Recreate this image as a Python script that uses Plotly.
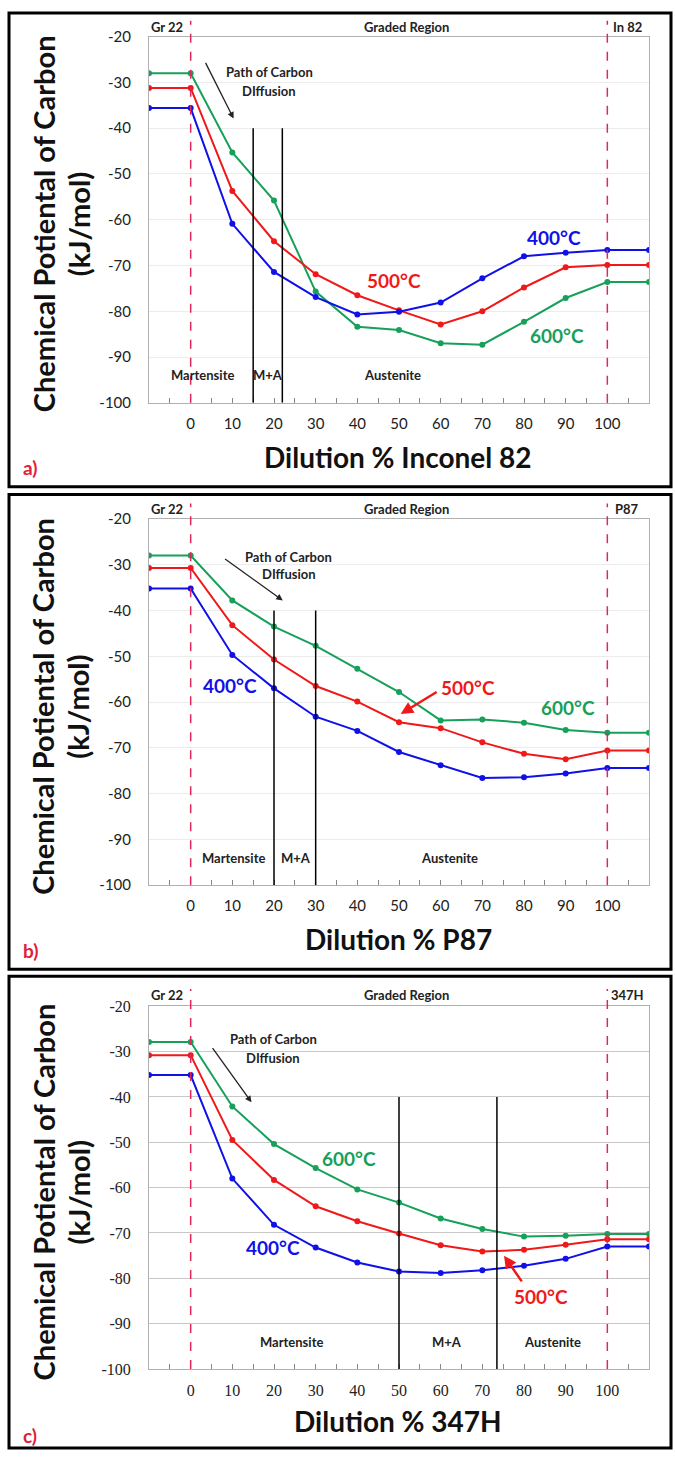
import plotly.graph_objects as go

W, H = 675, 1460

# ---------------- data ----------------
dilution = [-10, 0, 10, 20, 30, 40, 50, 60, 70, 80, 90, 100, 110]
tick_vals = [0, 10, 20, 30, 40, 50, 60, 70, 80, 90, 100]
tick_text = ["0", "10", "20", "30", "40", "50", "60", "70", "80", "90", "100"]
y_ticks = [-20, -30, -40, -50, -60, -70, -80, -90, -100]
y_tick_text = ["-20", "-30", "-40", "-50", "-60", "-70", "-80", "-90", "-100"]

a600 = [-28.0, -28.0, -45.3, -55.8, -75.7, -83.4, -84.1, -87.0, -87.3, -82.3, -77.1, -73.6, -73.6]
a500 = [-31.2, -31.2, -53.7, -64.7, -71.9, -76.5, -79.8, -82.9, -80.0, -74.8, -70.4, -69.9, -69.9]
a400 = [-35.6, -35.6, -60.9, -71.4, -76.9, -80.7, -80.1, -78.1, -72.8, -68.0, -67.2, -66.6, -66.6]

b600 = [-28.0, -28.0, -37.8, -43.5, -47.7, -52.7, -57.8, -64.0, -63.8, -64.5, -66.1, -66.7, -66.7]
b500 = [-30.7, -30.7, -43.2, -50.7, -56.5, -59.9, -64.4, -65.7, -68.8, -71.3, -72.5, -70.6, -70.6]
b400 = [-35.2, -35.2, -49.7, -57.0, -63.2, -66.3, -70.9, -73.8, -76.6, -76.4, -75.6, -74.4, -74.4]

c600 = [-27.9, -27.9, -42.1, -50.4, -55.7, -60.4, -63.3, -66.8, -69.1, -70.8, -70.6, -70.2, -70.2]
c500 = [-30.8, -30.8, -49.5, -58.3, -64.1, -67.4, -70.1, -72.7, -74.1, -73.7, -72.6, -71.4, -71.4]
c400 = [-35.2, -35.2, -58.0, -68.2, -73.2, -76.5, -78.5, -78.8, -78.2, -77.2, -75.7, -73.0, -73.0]

panel_letters = ["a)", "b)", "c)"]
x_titles = ["Dilution % Inconel 82", "Dilution % P87", "Dilution % 347H"]
right_labels = ["In 82", "P87", "347H"]
phase_lines = [[15, 22], [20, 30], [50, 73.5]]
phase_labels = [
    [("Martensite", 2.9), ("M+A", 18.5), ("Austenite", 48.5)],
    [("Martensite", 10.3), ("M+A", 25.3), ("Austenite", 62.2)],
    [("Martensite", 24.1), ("M+A", 61.6), ("Austenite", 86.9)],
]
# temperature label positions (x, y) per panel: 400, 500, 600
temp_pos = [
    [(87.3, -63.8), (48.8, -73.3), (87.8, -85.3)],
    [(9.5, -56.3), (66.5, -56.8), (90.6, -61.2)],
    [(19.8, -73.3), (84.0, -83.9), (38.0, -53.5)],
]
path_text_x = [18.8, 23.5, 19.8]
path_text_y = [(-27.8, -31.9), (-28.2, -32.1), (-27.3, -31.4)]
path_arrow = [((3.4, -25.4), (10.3, -37.9)), ((7.9, -28.5), (22.1, -37.8)), ((5.0, -28.9), (14.6, -41.2))]
red_arrow = [None, ((59.4, -57.6), (50.4, -62.6)), ((79.7, -81.0), (75.2, -75.0))]

series = [(a400, a500, a600), (b400, b500, b600), (c400, c500, c600)]

# ---------------- layout geometry (pixels) ----------------
boxes = [(9, 3, 671, 483), (9, 491, 671, 972), (9, 979, 671, 1457)]
plot_x = (149, 649)
plot_y = [(27, 398), (515.7, 886.7), (1009.3, 1377)]
top_label_y = [17, 505.7, 997.7]
dash_top = [11, 500, 992]
xtitle_y = [453, 941.7, 1430]
letter_y = [464, 953, 1444]
ytitle_c = [217, 706, 1198]

BLUE = "#1010e8"
RED = "#f01818"
GREEN = "#16a05a"
DASH = "#e02858"
TITLE_FONT = "Lato"

def px(x):
    return x / W

def py(y):
    return 1 - y / H

fig = go.Figure()
shapes = []
annotations = []

def ann(**kw):
    kw.setdefault("xanchor", "center")
    kw.setdefault("yanchor", "middle")
    kw.setdefault("showarrow", False)
    annotations.append(kw)

for i in range(3):
    sfx = "" if i == 0 else str(i + 1)
    xa = "x" + sfx
    ya = "y" + sfx
    s400, s500, s600 = series[i]
    for vals, col, nm in [(s600, GREEN, "600°C"), (s500, RED, "500°C"), (s400, BLUE, "400°C")]:
        fig.add_trace(go.Scatter(
            x=dilution, y=vals, mode="lines+markers", name=nm,
            line=dict(color=col, width=2), marker=dict(color=col, size=6),
            xaxis=xa, yaxis=ya, showlegend=False, hoverinfo="skip"))

    serif = (i == 2)
    tfont = dict(family="Liberation Serif" if serif else "Lato", size=16 if serif else 15, color="#222")
    gridc = "#c8c8c8" if serif else "#ececec"
    fig.update_layout(**{
        "xaxis" + sfx: dict(
            domain=[px(plot_x[0]), px(plot_x[1])], anchor=ya, range=[-10, 110],
            tickvals=tick_vals, ticktext=tick_text, ticks="inside", ticklen=5,
            tickcolor="#888", showgrid=False, zeroline=False, showline=True,
            linecolor="#b0b0b0", linewidth=1, mirror=True, tickfont=tfont,
            ticklabelstandoff=7,
            minor=dict(dtick=5, tick0=-5, ticks="inside", ticklen=5, tickcolor="#888", showgrid=False),
            fixedrange=True),
        "yaxis" + sfx: dict(
            domain=[py(plot_y[i][1]), py(plot_y[i][0])], anchor=xa, range=[-100, -20],
            tickvals=y_ticks, ticktext=y_tick_text, ticks="", showgrid=True, gridcolor=gridc,
            gridwidth=1, zeroline=False, showline=True, linecolor="#b0b0b0", linewidth=1,
            mirror=True, tickfont=tfont, ticklabelstandoff=14, fixedrange=True),
    })

    # panel box
    x0, y0, x1, y1 = boxes[i]
    shapes.append(dict(type="rect", xref="paper", yref="paper", x0=px(x0), x1=px(x1),
                       y0=py(y1), y1=py(y0), line=dict(color="black", width=3), layer="above"))
    # red dashed boundaries
    for xv in (0, 100):
        shapes.append(dict(type="line", xref=xa, yref="paper", x0=xv, x1=xv,
                           y0=py(plot_y[i][1]), y1=py(dash_top[i]),
                           line=dict(color=DASH, width=1.5, dash="dash")))
    # phase lines
    for xv in phase_lines[i]:
        shapes.append(dict(type="line", xref=xa, yref=ya, x0=xv, x1=xv, y0=-100, y1=-40,
                           line=dict(color="black", width=1.5)))

    small = dict(family="Lato", size=13, color="#222")
    # top labels
    for txt, xv in [("Gr 22", -5.7), ("Graded Region", 51.9), (right_labels[i], 104.8)]:
        ann(text="<b>%s</b>" % txt, xref=xa, yref="paper", x=xv, y=py(top_label_y[i]), font=small)
    # phase labels
    for txt, xv in phase_labels[i]:
        ann(text="<b>%s</b>" % txt, xref=xa, yref=ya, x=xv, y=-94.0, font=small)
    # path of carbon diffusion
    ann(text="<b>Path of Carbon</b>", xref=xa, yref=ya, x=path_text_x[i], y=path_text_y[i][0], font=small)
    ann(text="<b>DIffusion</b>", xref=xa, yref=ya, x=path_text_x[i], y=path_text_y[i][1], font=small)
    (ax0, ay0), (ax1, ay1) = path_arrow[i]
    ann(text="", xref=xa, yref=ya, axref=xa, ayref=ya, x=ax1, y=ay1, ax=ax0, ay=ay0,
        showarrow=True, arrowhead=2, arrowsize=1, arrowwidth=1.3, arrowcolor="#222")
    if red_arrow[i] is not None:
        (rx0, ry0), (rx1, ry1) = red_arrow[i]
        ann(text="", xref=xa, yref=ya, axref=xa, ayref=ya, x=rx1, y=ry1, ax=rx0, ay=ry0,
            showarrow=True, arrowhead=2, arrowsize=1, arrowwidth=2.5, arrowcolor=RED)
    # temperature labels
    for (tx, ty), col, txt in zip(temp_pos[i], (BLUE, RED, GREEN), ("400°C", "500°C", "600°C")):
        ann(text="<b>%s</b>" % txt, xref=xa, yref=ya, x=tx, y=ty,
            font=dict(family="Lato", size=19, color=col))
    # axis titles
    ann(text="<b>%s</b>" % x_titles[i], xref="paper", yref="paper",
        x=px(398.5), y=py(xtitle_y[i]), font=dict(family=TITLE_FONT, size=28, color="#111"))
    ann(text="<b>Chemical Potiental of Carbon</b>", xref="paper", yref="paper",
        x=px(43), y=py(ytitle_c[i]), textangle=-90,
        font=dict(family=TITLE_FONT, size=29, color="#111"))
    ann(text="<b>(kJ/mol)</b>", xref="paper", yref="paper",
        x=px(78), y=py(ytitle_c[i]), textangle=-90,
        font=dict(family=TITLE_FONT, size=29, color="#111"))
    ann(text="<b>%s</b>" % panel_letters[i], xref="paper", yref="paper",
        x=px(30), y=py(letter_y[i]), font=dict(family="Lato", size=19, color="#e0203a"))

fig.update_layout(width=W, height=H, margin=dict(l=0, r=0, t=0, b=0),
                  paper_bgcolor="white", plot_bgcolor="white",
                  shapes=shapes, annotations=annotations, showlegend=False)

fig.write_html("out.html")
